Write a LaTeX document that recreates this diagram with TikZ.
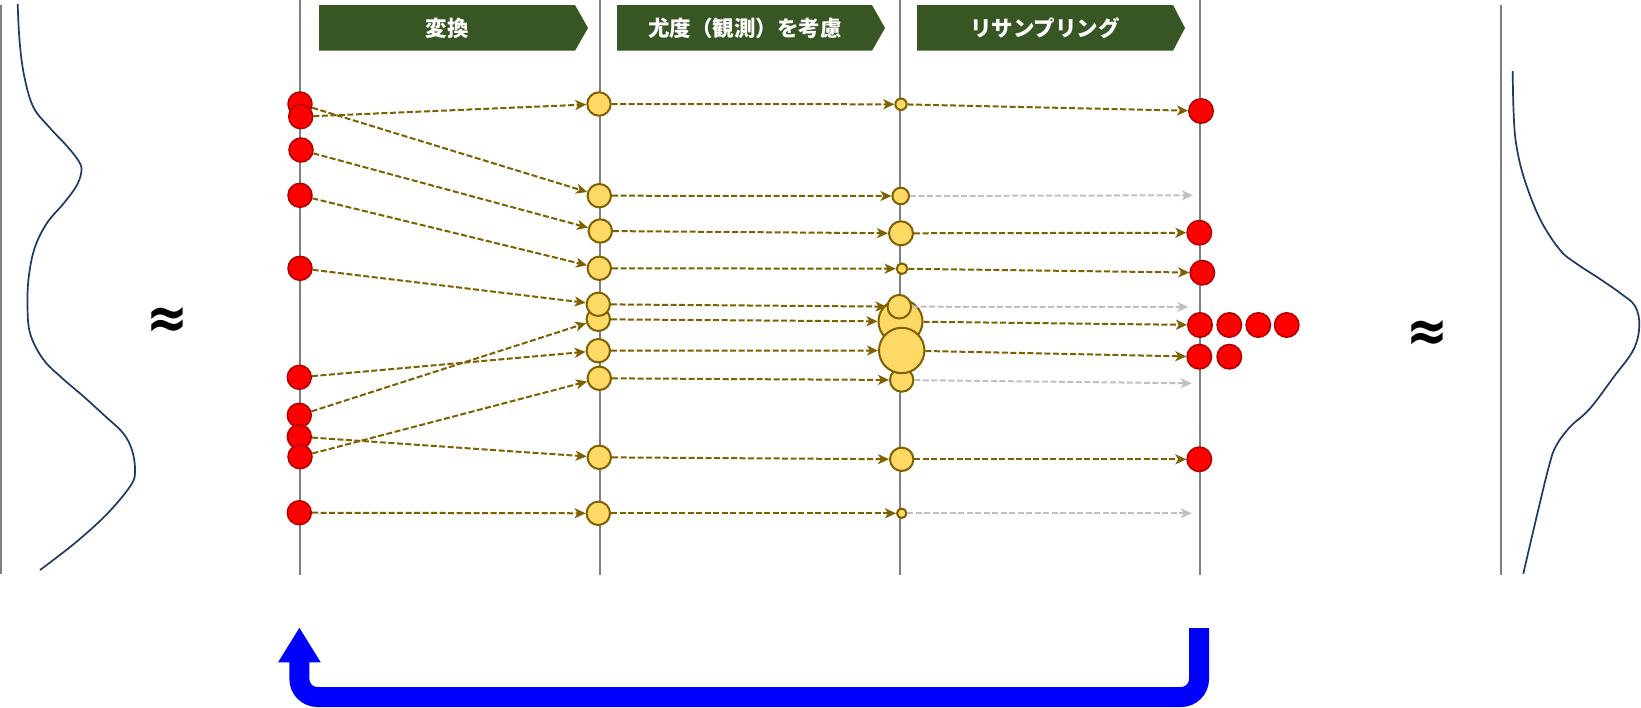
\documentclass[tikz,border=0pt]{standalone}
\usepackage{fontspec}
\usepackage{graphicx}
\usetikzlibrary{arrows.meta}
\newfontfamily\cjk{Noto Sans CJK JP}
\newfontfamily\djv{DejaVu Sans}
\definecolor{bannergreen}{HTML}{375623}
\definecolor{redF}{HTML}{FF0000}
\definecolor{redS}{HTML}{B20000}
\definecolor{yelF}{HTML}{FFD966}
\definecolor{yelS}{HTML}{7F6000}
\definecolor{brownA}{HTML}{7F6000}
\definecolor{grayA}{HTML}{C0C0C0}
\definecolor{axisG}{HTML}{808080}
\definecolor{navyC}{HTML}{1F3864}
\definecolor{loopB}{HTML}{0000FF}
\tikzset{
  rdot/.style={circle, draw=redS, fill=redF, line width=1.5pt, inner sep=0pt, minimum size=#1},
  rdot/.default=24,
  ydot/.style={circle, draw=yelS, fill=yelF, line width=2pt, inner sep=0pt, minimum size=#1},
  ydot/.default=23.4,
  axisline/.style={draw=axisG, line width=1.6pt},
  barrow/.style={draw=brownA, line width=2pt, dash pattern=on 6pt off 2.5pt, -{Stealth[length=11pt,width=10pt,inset=3pt]}},
  garrow/.style={draw=grayA, line width=2pt, dash pattern=on 6pt off 2.5pt, -{Stealth[length=11pt,width=10pt,inset=3pt]}},
  bannertext/.style={text=white, font=\cjk\bfseries\fontsize{21.5}{25}\selectfont, inner sep=0pt},
  curveline/.style={draw=navyC, line width=1.7pt},
  approxsign/.style={font=\djv\bfseries\fontsize{50}{50}\selectfont, inner sep=0pt}
}
\begin{document}
\begin{tikzpicture}[x=1pt,y=-1pt]
\useasboundingbox (0,0) rectangle (1641,707);
% axis lines
\draw[axisline] (1,5) -- (1,574);
\draw[axisline] (300,0) -- (300,575);
\draw[axisline] (600,0) -- (600,575);
\draw[axisline] (900,0) -- (900,575);
\draw[axisline] (1200,0) -- (1200,575);
\draw[axisline] (1501,5) -- (1501,575);
% banners
\fill[bannergreen] (319,5) -- (575,5) -- (588,28) -- (575,50.7) -- (319,50.7) -- cycle;
\node[bannertext] (t1) at (447,28) {変換};
\fill[bannergreen] (617,5) -- (872,5) -- (885,28) -- (872,50.7) -- (617,50.7) -- cycle;
\node[bannertext] (t2) at (745,28) {尤度（観測）を考慮};
\fill[bannergreen] (917,5) -- (1173,5) -- (1185,28) -- (1173,50.7) -- (917,50.7) -- cycle;
\node[bannertext] (t3) at (1045,28) {リサンプリング};
% curves
\draw[curveline] plot[smooth, tension=0.6] coordinates {(17.7,4) (19.5,40) (24,75) (33.3,107) (50,128) (66,145) (78,160) (81.5,170) (77,185) (64,203) (47,223) (35,247) (29,275) (27.5,303) (30,333) (43,359) (62,378) (83,396) (105,416) (123,433) (132,450) (135,470) (131,485) (107,514) (75,543) (40,570)};
\draw[curveline] plot[smooth, tension=0.6] coordinates {(1512.7,71) (1513.5,110) (1516,143) (1524,178) (1540,219) (1560,250) (1577,264) (1600,279) (1620,293) (1635,306) (1639.3,326) (1633.3,350) (1613.3,377.5) (1590,408.5) (1570,427) (1556,446) (1549,466) (1537,515) (1523.3,573.7)};
\node[approxsign] (ap1) at (167.5,323) {\scalebox{1}[1.2]{≈}};
\node[approxsign] (ap2) at (1427.5,336) {\scalebox{1}[1.2]{≈}};
% column 1
\node[rdot] (c1a) at (300,104) {};
\node[rdot] (c1b) at (300.7,116.7) {};
\node[rdot] (c1c) at (301,150) {};
\node[rdot] (c1d) at (300,195.3) {};
\node[rdot] (c1e) at (300,268.3) {};
\node[rdot] (c1f) at (299.3,377.3) {};
\node[rdot] (c1g) at (299.3,415.3) {};
\node[rdot] (c1h) at (299.3,436.7) {};
\node[rdot] (c1i) at (300,456.7) {};
\node[rdot] (c1j) at (299.3,512.7) {};
% column 2
\node[ydot] (y2a) at (599,104) {};
\node[ydot] (y2b) at (599.3,195.7) {};
\node[ydot] (y2c) at (600.3,231) {};
\node[ydot] (y2d) at (599.3,268.3) {};
\node[ydot] (y2f) at (598.3,319.3) {};
\node[ydot] (y2e) at (598.3,304.3) {};
\node[ydot] (y2g) at (598.3,350.7) {};
\node[ydot] (y2h) at (599.3,378.3) {};
\node[ydot] (y2i) at (599.3,457.3) {};
\node[ydot] (y2j) at (598.3,513.3) {};
% column 3
\node[ydot=11.4] (y3a) at (901,104.3) {};
\node[ydot=16.6] (y3b) at (900.7,196) {};
\node[ydot=24] (y3c) at (901,233.3) {};
\node[ydot=10.6] (y3d) at (902,268.7) {};
\node[ydot=44] (y3f) at (900.5,321.5) {};
\node[ydot=23.4] (y3h) at (901.7,380) {};
\node[ydot=23.6] (y3e) at (899.3,306.7) {};
\node[ydot=45.4] (y3g) at (901.7,350.5) {};
\node[ydot=23.4] (y3i) at (901.7,459.3) {};
\node[ydot=9.4] (y3j) at (901.7,513.3) {};
% column 4
\node[rdot=24.5] (r4a) at (1201,111) {};
\node[rdot=24.5] (r4c) at (1199.3,232.7) {};
\node[rdot=24.5] (r4d) at (1202.3,272.7) {};
\node[rdot=24.5] (r4f) at (1200,325) {};
\node[rdot=24.5] (r4f2) at (1229.3,325) {};
\node[rdot=24.5] (r4f3) at (1258.3,325) {};
\node[rdot=24.5] (r4f4) at (1286.7,325) {};
\node[rdot=24.5] (r4g) at (1199.3,356.7) {};
\node[rdot=24.5] (r4g2) at (1229.3,356.7) {};
\node[rdot=24.5] (r4i) at (1199.3,459.3) {};
% free ends of the discarded particles
\coordinate (gb) at (1193,195.3);
\coordinate (ge) at (1188.3,307);
\coordinate (gh) at (1191.7,383.3);
\coordinate (gj) at (1191.7,513.3);
% transform arrows
\draw[barrow] (c1a) -- (y2b);
\draw[barrow] (c1b) -- (y2a);
\draw[barrow] (c1c) -- (y2c);
\draw[barrow] (c1d) -- (y2d);
\draw[barrow] (c1e) -- (y2e);
\draw[barrow] (c1f) -- (y2g);
\draw[barrow] (c1g) -- (y2f);
\draw[barrow] (c1h) -- (y2i);
\draw[barrow] (c1i) -- (y2h);
\draw[barrow] (c1j) -- (y2j);
% likelihood arrows
\draw[barrow] (y2a) -- (y3a);
\draw[barrow] (y2b) -- (y3b);
\draw[barrow] (y2c) -- (y3c);
\draw[barrow] (y2d) -- (y3d);
\draw[barrow] (y2e) -- (y3e);
\draw[barrow] (y2f) -- (y3f);
\draw[barrow] (y2g) -- (y3g);
\draw[barrow] (y2h) -- (y3h);
\draw[barrow] (y2i) -- (y3i);
\draw[barrow] (y2j) -- (y3j);
% resampling arrows
\draw[barrow] (y3a) -- (r4a);
\draw[garrow] (y3b) -- (gb);
\draw[barrow] (y3c) -- (r4c);
\draw[barrow] (y3d) -- (r4d);
\draw[garrow] (y3e) -- (ge);
\draw[barrow] (y3f) -- (r4f);
\draw[barrow] (y3g) -- (r4g);
\draw[garrow] (y3h) -- (gh);
\draw[barrow] (y3i) -- (r4i);
\draw[garrow] (y3j) -- (gj);
% loop back arrow
\coordinate (loopS) at (1199,628);
\coordinate (loopE) at (299.4,627.3);
\draw[draw=loopB, line width=20pt, rounded corners=18pt, -{Triangle[length=35pt,width=40pt]}] (loopS) -- (1199,697) -- (299.4,697) -- (loopE);
\end{tikzpicture}
\end{document}
